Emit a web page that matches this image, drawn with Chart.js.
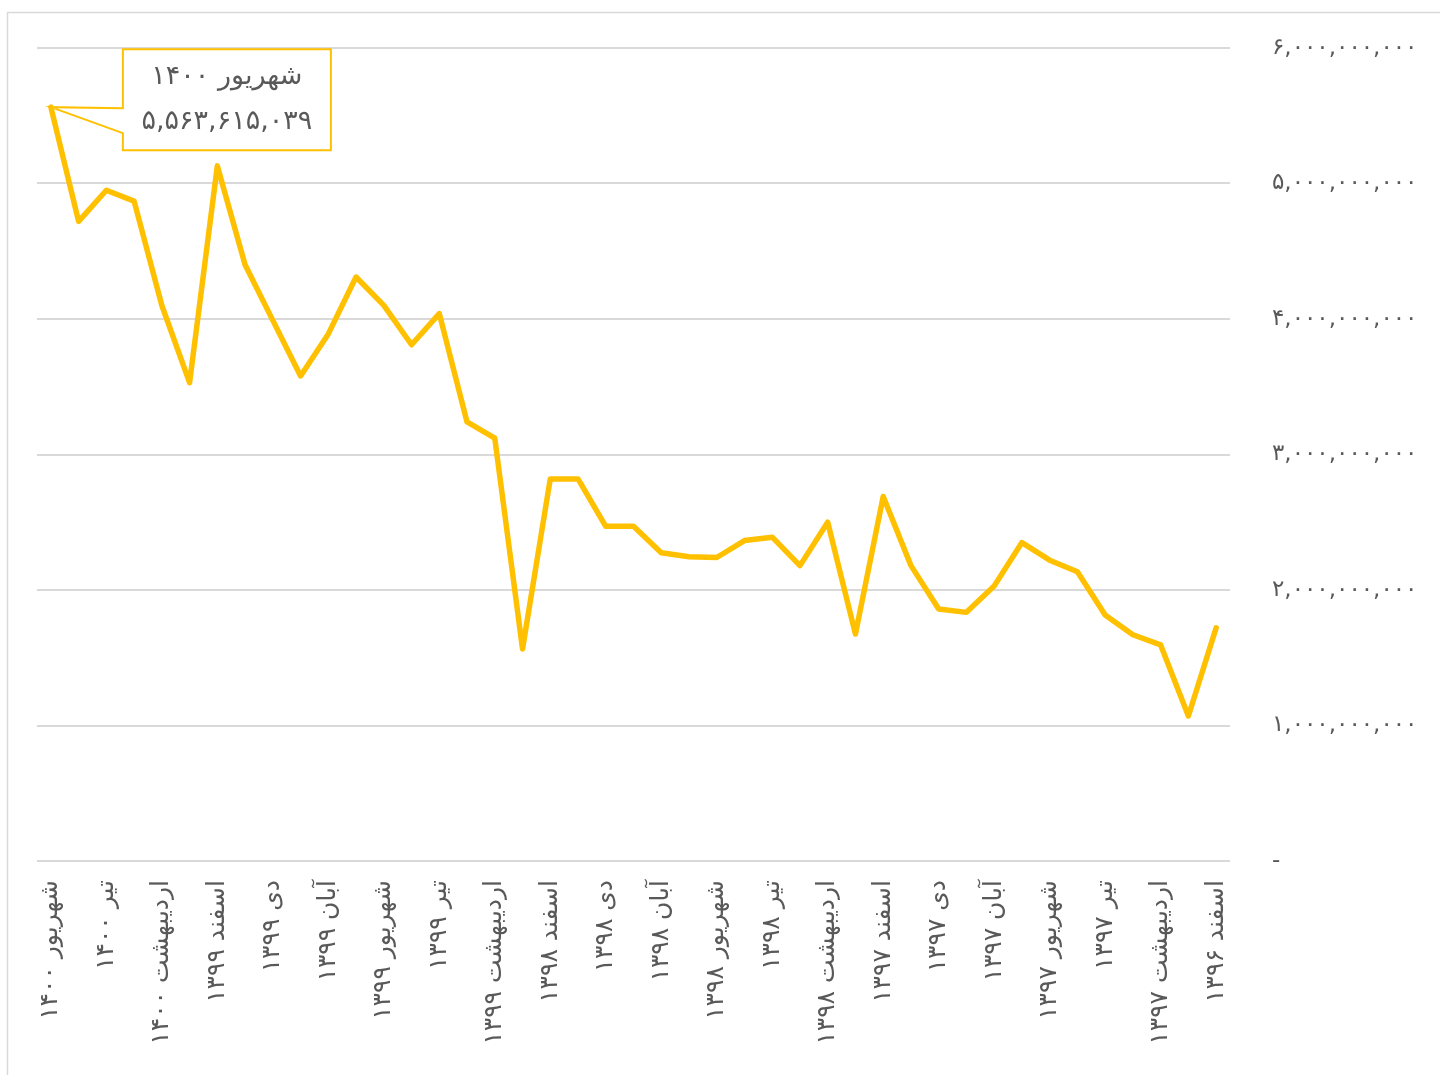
<!DOCTYPE html>
<html>
<head>
<meta charset="utf-8">
<script src="https://cdn.jsdelivr.net/npm/chart.js@4.4.1/dist/chart.umd.min.js"></script>
<style>
html,body{margin:0;padding:0;background:#fff;}
#wrap{position:relative;width:1440px;height:1075px;}
</style>
</head>
<body>
<div id="wrap"><canvas id="c" width="1440" height="1075"></canvas></div>
<script>
// Categories (monthly, newest to oldest)
const months = [
  'شهریور','مرداد','تیر','خرداد','اردیبهشت','فروردین',
  'اسفند','بهمن','دی','آذر','آبان','مهر','شهریور','مرداد','تیر','خرداد','اردیبهشت','فروردین',
  'اسفند','بهمن','دی','آذر','آبان','مهر','شهریور','مرداد','تیر','خرداد','اردیبهشت','فروردین',
  'اسفند','بهمن','دی','آذر','آبان','مهر','شهریور','مرداد','تیر','خرداد','اردیبهشت','فروردین',
  'اسفند'
];
const years = [
  '۱۴۰۰','۱۴۰۰','۱۴۰۰','۱۴۰۰','۱۴۰۰','۱۴۰۰',
  '۱۳۹۹','۱۳۹۹','۱۳۹۹','۱۳۹۹','۱۳۹۹','۱۳۹۹','۱۳۹۹','۱۳۹۹','۱۳۹۹','۱۳۹۹','۱۳۹۹','۱۳۹۹',
  '۱۳۹۸','۱۳۹۸','۱۳۹۸','۱۳۹۸','۱۳۹۸','۱۳۹۸','۱۳۹۸','۱۳۹۸','۱۳۹۸','۱۳۹۸','۱۳۹۸','۱۳۹۸',
  '۱۳۹۷','۱۳۹۷','۱۳۹۷','۱۳۹۷','۱۳۹۷','۱۳۹۷','۱۳۹۷','۱۳۹۷','۱۳۹۷','۱۳۹۷','۱۳۹۷','۱۳۹۷',
  '۱۳۹۶'
];
const categories = months.map((m, i) => m + ' ' + years[i]);

// Series values
const values = [
  5563615039, 4720000000, 4950000000, 4870000000, 4100000000, 3530000000,
  5130000000, 4400000000, 3990000000, 3580000000, 3890000000, 4310000000,
  4100000000, 3810000000, 4040000000, 3240000000, 3120000000, 1565000000,
  2820000000, 2820000000, 2470000000, 2470000000, 2275000000, 2245000000,
  2240000000, 2365000000, 2390000000, 2180000000, 2500000000, 1675000000,
  2690000000, 2180000000, 1860000000, 1835000000, 2030000000, 2350000000,
  2220000000, 2135000000, 1815000000, 1670000000, 1595000000, 1070000000,
  1720000000
];

// Y axis ticks
const yTicks = [0, 1000000000, 2000000000, 3000000000, 4000000000, 5000000000, 6000000000];

const faDigits = '۰۱۲۳۴۵۶۷۸۹';
function toFa(n) {
  return Math.round(n).toLocaleString('en-US').replace(/[0-9]/g, d => faDigits[+d]);
}

const FONT = '"DejaVu Sans", sans-serif';
const TXT = '#595959';
const GOLD = '#FFC000';

const frame = {
  id: 'frame',
  beforeDraw(chart) {
    const ctx = chart.ctx;
    ctx.save();
    ctx.fillStyle = '#fff';
    ctx.fillRect(0, 0, chart.width, chart.height);
    ctx.strokeStyle = '#d9d9d9';
    ctx.lineWidth = 1.5;
    ctx.strokeRect(7.5, 12.5, chart.width + 10, chart.height + 10);
    ctx.restore();
  }
};

const callout = {
  id: 'callout',
  afterDatasetsDraw(chart) {
    const meta = chart.getDatasetMeta(0);
    const pt = meta.data[0];
    if (!pt) return;
    const px = pt.x, py = pt.y;
    const bx = px + 72, by = py - 58, w = 208, h = 101;
    const ctx = chart.ctx;
    ctx.save();
    ctx.beginPath();
    ctx.moveTo(bx, by);
    ctx.lineTo(bx + w, by);
    ctx.lineTo(bx + w, by + h);
    ctx.lineTo(bx, by + h);
    ctx.lineTo(bx, py + 26);
    ctx.lineTo(px, py);
    ctx.lineTo(bx, py + 1);
    ctx.closePath();
    ctx.fillStyle = '#fff';
    ctx.fill();
    ctx.strokeStyle = GOLD;
    ctx.lineWidth = 2;
    ctx.lineJoin = 'miter';
    ctx.stroke();
    ctx.fillStyle = TXT;
    ctx.font = '27px ' + FONT;
    ctx.textAlign = 'center';
    ctx.textBaseline = 'middle';
    ctx.fillText(categories[0], bx + w / 2, by + 28);
    ctx.fillText(toFa(values[0]), bx + w / 2, by + 73);
    ctx.restore();
  }
};

new Chart(document.getElementById('c'), {
  type: 'line',
  data: {
    labels: categories,
    datasets: [{
      data: values,
      borderColor: GOLD,
      borderWidth: 5.5,
      pointRadius: 0,
      pointHoverRadius: 0,
      tension: 0,
      fill: false,
      borderJoinStyle: 'round',
      borderCapStyle: 'round'
    }]
  },
  options: {
    responsive: false,
    animation: false,
    devicePixelRatio: 1,
    events: [],
    layout: { padding: { left: 37, top: 48, right: 0, bottom: 0 } },
    plugins: { legend: { display: false }, tooltip: { enabled: false } },
    scales: {
      x: {
        type: 'category',
        offset: true,
        grid: { display: false, drawTicks: false },
        border: { display: false },
        afterFit(s) { s.height = 1075 - 861; },
        ticks: {
          autoSkip: false,
          maxRotation: 90,
          minRotation: 90,
          padding: 19,
          color: TXT,
          font: { family: FONT, size: 25 },
          callback(v, i) { return i % 2 === 0 ? categories[i] : ''; }
        }
      },
      y: {
        position: 'right',
        min: 0,
        max: 6000000000,
        afterBuildTicks(s) { s.ticks = yTicks.map(v => ({ value: v })); },
        afterFit(s) { s.width = 1440 - 1230; },
        grid: { color: '#d9d9d9', lineWidth: 2, drawTicks: true, tickLength: 34, tickColor: 'rgba(0,0,0,0)' },
        border: { display: false },
        ticks: {
          padding: 8,
          color: TXT,
          font: { family: FONT, size: 23 },
          callback(v) { return v === 0 ? '-' : toFa(v); }
        }
      }
    }
  },
  plugins: [frame, callout]
});
</script>
</body>
</html>
